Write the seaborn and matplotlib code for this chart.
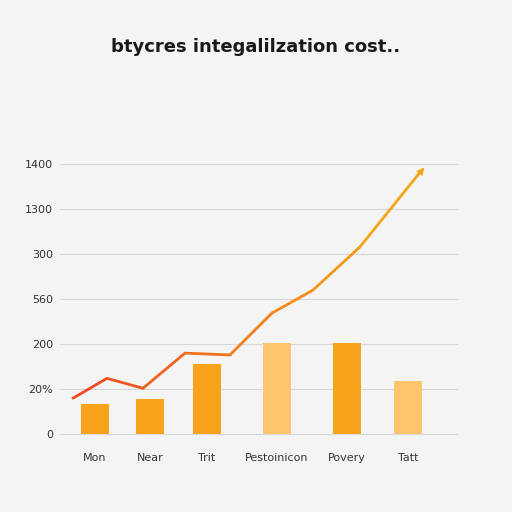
import matplotlib
matplotlib.use("Agg")
import matplotlib.pyplot as plt
import seaborn as sns
import numpy as np
import pandas as pd
import matplotlib.colors as mc

categories = ["Mon", "Near", "Trit", "Pestoinicon", "Povery", "Tatt"]
cat_pos = [95, 150, 207, 277, 347, 408]
bar_values = [0.67, 0.78, 1.56, 2.02, 2.02, 1.18]
bar_colors = ["#F9A21B", "#F9A21B", "#F9A21B", "#FDC56C", "#F9A21B", "#FDC56C"]
line_x = [73, 107, 143, 185, 230, 272, 313, 360, 422]
line_y = [0.80, 1.24, 1.02, 1.80, 1.76, 2.69, 3.20, 4.16, 5.87]
ytick_labels = ["0", "20%", "200", "560", "300", "1300", "1400"]
title = "btycres integalilzation cost.."

sns.set_theme(style="white")
fig = plt.figure(figsize=(5.12, 5.12), dpi=100)
fig.patch.set_facecolor("#f4f4f4")
ax = fig.add_axes([60/512, 67/512, 398/512, 290/512])
ax.set_facecolor("#f4f4f4")

df = pd.DataFrame({"x": cat_pos, "v": bar_values})
ax.bar(df["x"], df["v"], width=28, color=bar_colors, edgecolor="none", zorder=2)

c0 = np.array(mc.to_rgb("#F04A24")); c1 = np.array(mc.to_rgb("#F5A516"))
n = len(line_x) - 1
for i in range(n):
    t = i / (n - 1)
    ax.plot(line_x[i:i+2], line_y[i:i+2], color=tuple(c0*(1-t)+c1*t), lw=2, zorder=3, solid_capstyle="round")
ax.annotate("", xy=(line_x[-1]+4, line_y[-1]+0.1), xytext=(line_x[-2], line_y[-2]),
            arrowprops=dict(arrowstyle="-|>", color="#F5A516", lw=0, mutation_scale=14), zorder=4)

ax.set_xlim(60, 458)
ax.set_ylim(-0.24, 6.2)
ax.set_yticks(range(7))
ax.set_yticklabels(ytick_labels, fontsize=8, color="#333")
ax.set_xticks(cat_pos)
ax.set_xticklabels(categories, fontsize=8, color="#333")
ax.tick_params(axis="y", pad=5, length=0)
ax.tick_params(axis="x", pad=6, length=0)
for y in range(7):
    ax.axhline(y, color="#d8d8d8", lw=0.8, zorder=1)
for s in ax.spines.values():
    s.set_visible(False)
fig.text(0.5, 0.898, title, ha="center", fontsize=13, fontweight="bold", color="#1a1a1a")
fig.savefig("out.png", dpi=100, facecolor=fig.get_facecolor())
